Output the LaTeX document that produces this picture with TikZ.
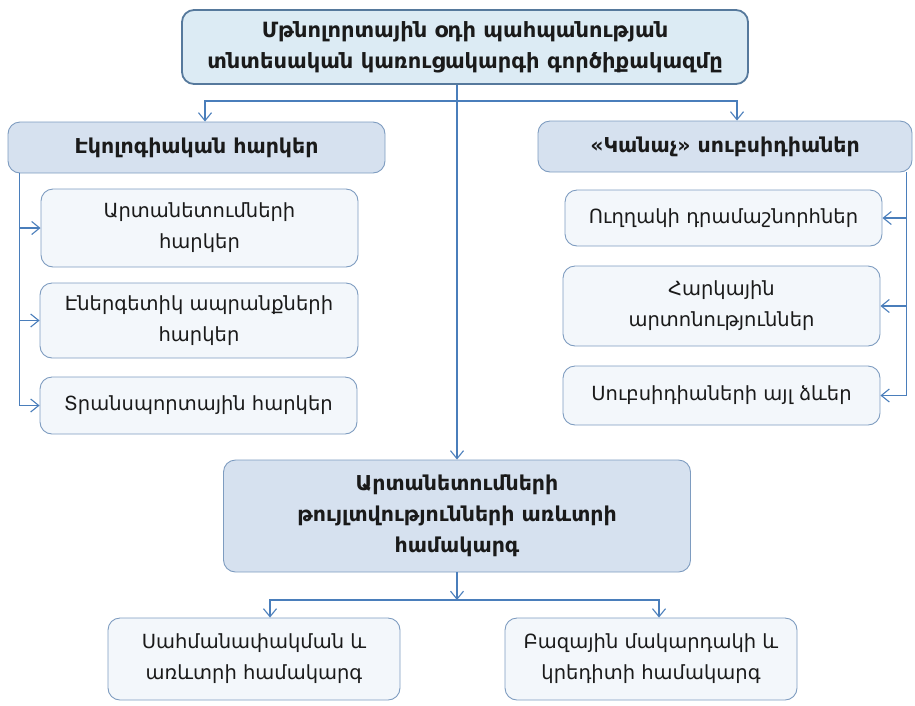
\documentclass[tikz,border=0pt]{standalone}
\usepackage{fontspec}
\setmainfont{DejaVu Sans}
\usetikzlibrary{arrows.meta}
\definecolor{ln}{HTML}{4A7EBB}
\definecolor{topfill}{HTML}{DCEBF4}
\definecolor{topdraw}{HTML}{56799C}
\definecolor{hfill}{HTML}{D6E1EF}
\definecolor{bdraw}{HTML}{7E9CC0}
\definecolor{ifill}{HTML}{F3F7FB}
\definecolor{txt}{HTML}{1A1A1A}
\begin{document}
\begin{tikzpicture}[x=1pt,y=-1pt,
  basebox/.style={rounded corners=12pt, align=center, inner sep=0pt, text=txt},
  topbox/.style={basebox, draw=topdraw, fill=topfill, line width=1.8pt, font=\bfseries\fontsize{21}{31}\selectfont},
  headbox/.style={basebox, draw=bdraw, fill=hfill, line width=0.9pt, font=\bfseries\fontsize{20.5}{31}\selectfont},
  itembox/.style={basebox, draw=bdraw, fill=ifill, line width=0.9pt, font=\fontsize{19.5}{31}\selectfont},
  conn/.style={draw=ln, line width=1.1pt},
  arr/.style={conn, -{Straight Barb[length=8pt,width=13pt,line width=1.1pt]}}
]
\useasboundingbox (0,0) rectangle (915,705);

\node[topbox, minimum width=566pt, minimum height=74pt] (top) at (465,47)
  {Մթնոլորտային օդի պահպանության\\տնտեսական կառուցակարգի գործիքակազմը};

\node[headbox, minimum width=377pt, minimum height=51pt] (lh) at (196.5,147.5) {Էկոլոգիական հարկեր};
\node[headbox, minimum width=374pt, minimum height=51pt] (rh) at (725,146.5) {«Կանաչ» սուբսիդիաներ};

\node[itembox, minimum width=317pt, minimum height=78pt] (l1) at (199.5,228) {Արտանետումների\\հարկեր};
\node[itembox, minimum width=318pt, minimum height=75pt] (l2) at (199,320.5) {Էներգետիկ ապրանքների\\հարկեր};
\node[itembox, minimum width=317pt, minimum height=57pt] (l3) at (198.5,405.5) {Տրանսպորտային հարկեր};

\node[itembox, minimum width=317pt, minimum height=56pt] (r1) at (723.5,218) {Ուղղակի դրամաշնորհներ};
\node[itembox, minimum width=317pt, minimum height=80pt] (r2) at (721.5,306) {Հարկային\\արտոնություններ};
\node[itembox, minimum width=317pt, minimum height=59pt] (r3) at (721.5,395.5) {Սուբսիդիաների այլ ձևեր};

\node[headbox, minimum width=467pt, minimum height=112pt] (ctr) at (457,516)
  {Արտանետումների\\թույլտվությունների  առևտրի\\համակարգ};

\node[itembox, minimum width=292pt, minimum height=82pt] (b1) at (254,659) {Սահմանափակման և\\առևտրի համակարգ};
\node[itembox, minimum width=292pt, minimum height=82pt] (b2) at (651,659) {Բազային մակարդակի և\\կրեդիտի համակարգ};

\coordinate (hj) at (457,101);
\coordinate (bj) at (457,600);

\draw[arr] (top.south -| ctr.north) -- (ctr.north);
\draw[arr] (hj) -| ([xshift=8.5pt]lh.north);
\draw[arr] (hj) -| ([xshift=12pt]rh.north);

\draw[arr] ([xshift=12pt]lh.south west) |- (l1);
\draw[arr] ([xshift=12pt]lh.south west) |- (l2);
\draw[arr] ([xshift=12pt]lh.south west) |- (l3);

\draw[arr] ([xshift=-6pt]rh.south east) |- (r1);
\draw[arr] ([xshift=-6pt]rh.south east) |- (r2);
\draw[arr] ([xshift=-6pt]rh.south east) |- (r3);

\draw[arr] (ctr.south) -- (bj);
\draw[arr] (bj) -| ([xshift=16pt]b1.north);
\draw[arr] (bj) -| ([xshift=8pt]b2.north);
\end{tikzpicture}
\end{document}
